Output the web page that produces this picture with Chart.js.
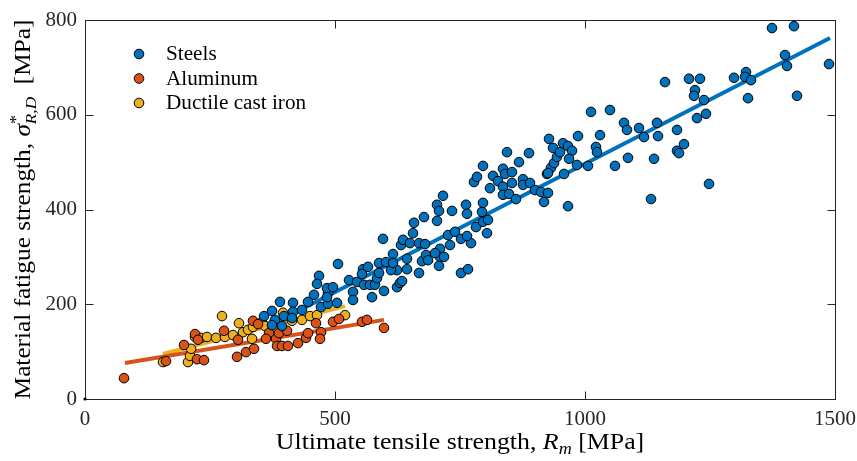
<!DOCTYPE html>
<html>
<head>
<meta charset="utf-8">
<script src="https://cdn.jsdelivr.net/npm/chart.js@4"></script>
<style>
  html, body { margin: 0; padding: 0; background: #fff; }
  canvas { display: block; }
</style>
</head>
<body>
<canvas id="c" width="857" height="461"></canvas>
<script>
// Ultimate tensile strength R_m [MPa] and material fatigue strength [MPa]
const steelRm = [358,374,390,398,416,416,434,414,380,374,394,458,472,486,504,486,468,464,484,496,506,446,484,
  536,536,528,544,556,554,566,558,570,580,584,588,574,598,588,602,
  596,616,624,612,624,630,634,632,636,650,644,644,658,656,668,668,674,682,680,686,616,
  678,704,704,708,716,734,710,710,718,730,726,740,752,772,764,762,764,782,794,708,752,766,778,784,700,
  796,796,796,806,804,810,816,826,836,836,836,840,844,848,854,854,862,868,876,876,888,890,900,912,926,918,924,932,
  928,936,938,944,950,956,966,974,926,958,968,984,1006,966,986,1012,1022,1024,1030,1050,
  1060,1078,1084,1086,1108,1118,1132,1138,1144,1146,1160,1184,1198,1184,1188,1208,1230,1220,1218,1224,1238,1242,1248,
  1298,1322,1320,1332,1326,1374,1418,1400,1404,1424,1488];
const steelSigma = [175,186,205,175,203,184,188,171,167,156,154,220,194,201,203,224,260,243,234,236,285,205,215,
  226,209,251,247,274,264,279,241,241,241,255,266,215,228,287,289,
  338,306,272,272,236,245,249,325,336,329,296,274,372,350,329,266,291,304,327,293,287,
  384,376,410,397,429,397,317,300,300,325,346,353,338,329,344,410,391,363,395,281,266,274,458,469,308,
  492,414,374,378,350,445,471,460,486,448,431,475,521,433,479,456,422,500,464,452,519,456,441,437,435,416,475,488,
  549,530,498,511,521,540,534,524,477,475,507,494,492,407,555,606,532,521,557,610,
  492,583,568,509,572,553,422,507,583,555,669,568,538,524,519,676,676,652,640,593,631,602,454,
  678,690,680,673,635,783,787,726,703,640,707];

const aluRm = [78,198,220,226,224,238,162,278,306,304,322,338,336,346,368,362,382,388,404,384,394,406,426,442,446,472,470,462,496,508,554,564,598];
const aluSigma = [44,114,137,125,84,82,80,144,125,89,99,106,165,158,139,127,127,139,144,112,112,112,118,129,139,141,127,160,163,169,163,167,150];

const ironRm = [156,206,210,212,220,232,244,262,274,280,296,308,316,326,334,336,354,360,396,376,414,434,450,464,520];
const ironSigma = [78,78,91,106,131,129,131,129,175,131,135,160,141,146,127,152,163,154,182,152,165,167,175,177,177];

// Linear trend lines (end points)
const steelFitRm = [364, 1490], steelFitSigma = [152, 762];
const aluFitRm = [80, 598], aluFitSigma = [76, 167];
const ironFitRm = [156, 520], ironFitSigma = [95, 196];

const originRm = [0], originSigma = [0];

const xTicks = [0, 500, 1000, 1500];
const yTicks = [0, 200, 400, 600, 800];

const seriesLabels = ['Steels', 'Aluminum', 'Ductile cast iron'];
const seriesColors = ['#0072BD', '#D95319', '#EDB120'];

const FONT = '"Liberation Serif", "Times New Roman", serif';
const AXIS_COLOR = '#262626';
const TEXT_STRETCH = 1.1;

function pts(xs, ys) { return xs.map((x, i) => ({ x: x, y: ys[i] })); }

function scatterSet(label, xs, ys, color) {
  return { type: 'scatter', label: label, data: pts(xs, ys), backgroundColor: color,
    borderColor: '#000', borderWidth: 1, pointRadius: 4.8, pointHoverRadius: 4.8, order: 1 };
}
function fitSet(xs, ys, color) {
  return { type: 'line', label: '', data: pts(xs, ys), borderColor: color, borderWidth: 4,
    pointRadius: 0, fill: false, showLine: true, order: 5, borderCapStyle: 'butt' };
}

// Box with inward ticks on all four sides
const framePlugin = {
  id: 'frame',
  beforeDatasetsDraw(chart) {
    const { ctx, chartArea: a, scales } = chart;
    const L = Math.round(a.left) + 0.5, R = Math.round(a.right) + 0.5;
    const T = Math.round(a.top) + 0.5, B = Math.round(a.bottom) + 0.5;
    ctx.save();
    ctx.strokeStyle = AXIS_COLOR;
    ctx.lineWidth = 1;
    ctx.strokeRect(L, T, R - L, B - T);
    const len = 8;
    ctx.beginPath();
    xTicks.forEach(v => {
      const px = Math.round(scales.x.getPixelForValue(v)) + 0.5;
      ctx.moveTo(px, B); ctx.lineTo(px, B - len);
      ctx.moveTo(px, T); ctx.lineTo(px, T + len);
    });
    yTicks.forEach(v => {
      const py = Math.round(scales.y.getPixelForValue(v)) + 0.5;
      ctx.moveTo(L, py); ctx.lineTo(L + len, py);
      ctx.moveTo(R, py); ctx.lineTo(R - len, py);
    });
    ctx.stroke();
    ctx.restore();
  }
};

// Text with italic, superscript and subscript runs
function richWidth(ctx, parts, size) {
  let x = 0, runStart = 0, runEnd = 0;
  parts.forEach(p => {
    const s = size * (p.s || 1);
    ctx.font = (p.it ? 'italic ' : '') + s + 'px ' + FONT;
    const w = ctx.measureText(p.t).width;
    if (p.stack) { x = runStart; runEnd = Math.max(runEnd, x + w); x = runEnd; }
    else { runStart = x; x += w; runEnd = x; }
  });
  return x;
}
function drawRich(ctx, parts, cx, cy, size, angle) {
  ctx.save();
  ctx.translate(cx, cy);
  ctx.rotate(angle);
  ctx.scale(TEXT_STRETCH, 1);
  ctx.fillStyle = '#000';
  ctx.textBaseline = 'alphabetic';
  ctx.textAlign = 'left';
  const total = richWidth(ctx, parts, size);
  let x = -total / 2, runStart = x, runEnd = x;
  parts.forEach(p => {
    const s = size * (p.s || 1);
    ctx.font = (p.it ? 'italic ' : '') + s + 'px ' + FONT;
    const w = ctx.measureText(p.t).width;
    const dy = (p.dy || 0) * size;
    if (p.stack) {
      ctx.fillText(p.t, runStart, dy);
      runEnd = Math.max(runEnd, runStart + w); x = runEnd;
    } else {
      runStart = x;
      ctx.fillText(p.t, x, dy);
      x += w; runEnd = x;
    }
  });
  ctx.restore();
}

const titlesPlugin = {
  id: 'titles',
  afterDraw(chart) {
    const { ctx, chartArea: a } = chart;
    const xParts = [
      { t: 'Ultimate tensile strength, ' },
      { t: 'R', it: true },
      { t: 'm', it: true, s: 0.7, dy: 0.22 },
      { t: ' [MPa]' }
    ];
    drawRich(ctx, xParts, (a.left + a.right) / 2, 449, 23.5, 0);
    const yParts = [
      { t: 'Material fatigue strength, ' },
      { t: 'σ', it: true },
      { t: '*', s: 0.75, dy: -0.38 },
      { t: 'R,D', it: true, s: 0.68, dy: 0.25, stack: true },
      { t: '  [MPa]' }
    ];
    drawRich(ctx, yParts, 30, (a.top + a.bottom) / 2, 23, -Math.PI / 2);
  }
};

const legendPlugin = {
  id: 'legendBox',
  afterDraw(chart) {
    const { ctx } = chart;
    ctx.save();
    ctx.textBaseline = 'middle';
    ctx.textAlign = 'left';
    ctx.font = '20px ' + FONT;
    seriesLabels.forEach((lab, i) => {
      const y = 54 + i * 24.5;
      ctx.beginPath();
      ctx.arc(139, y, 4.8, 0, Math.PI * 2);
      ctx.fillStyle = seriesColors[i];
      ctx.fill();
      ctx.lineWidth = 1;
      ctx.strokeStyle = '#000';
      ctx.stroke();
      ctx.save();
      ctx.translate(166, y + 1);
      ctx.scale(1.06, 1);
      ctx.fillStyle = '#000';
      ctx.fillText(lab, 0, 0);
      ctx.restore();
    });
    ctx.restore();
  }
};

new Chart(document.getElementById('c'), {
  type: 'scatter',
  data: {
    datasets: [
      scatterSet(seriesLabels[0], steelRm, steelSigma, seriesColors[0]),
      scatterSet(seriesLabels[1], aluRm, aluSigma, seriesColors[1]),
      scatterSet(seriesLabels[2], ironRm, ironSigma, seriesColors[2]),
      fitSet(steelFitRm, steelFitSigma, seriesColors[0]),
      fitSet(aluFitRm, aluFitSigma, seriesColors[1]),
      fitSet(ironFitRm, ironFitSigma, seriesColors[2]),
      { type: 'scatter', label: '', data: pts(originRm, originSigma), backgroundColor: '#000',
        borderWidth: 0, pointRadius: 1.6, order: 0, clip: false }
    ]
  },
  options: {
    responsive: false,
    animation: false,
    devicePixelRatio: 1,
    events: [],
    layout: { padding: { top: 20, right: 22, left: 0, bottom: 0 } },
    plugins: { legend: { display: false }, tooltip: { enabled: false } },
    scales: {
      x: {
        type: 'linear', min: 0, max: 1500,
        afterBuildTicks: s => { s.ticks = xTicks.map(v => ({ value: v })); },
        afterFit: s => { s.height = 62; s.paddingLeft = 0; s.paddingRight = 0; },
        grid: { display: false, drawTicks: false },
        border: { display: false },
        ticks: { padding: 8, color: AXIS_COLOR, font: { family: FONT, size: 21 }, maxRotation: 0,
          callback: v => String(v) }
      },
      y: {
        type: 'linear', min: 0, max: 800,
        afterBuildTicks: s => { s.ticks = yTicks.map(v => ({ value: v })); },
        afterFit: s => { s.width = 85; s.paddingTop = 0; s.paddingBottom = 0; },
        grid: { display: false, drawTicks: false },
        border: { display: false },
        ticks: { padding: 8, color: AXIS_COLOR, font: { family: FONT, size: 21 },
          callback: v => String(v) }
      }
    }
  },
  plugins: [framePlugin, titlesPlugin, legendPlugin]
});
</script>
</body>
</html>
